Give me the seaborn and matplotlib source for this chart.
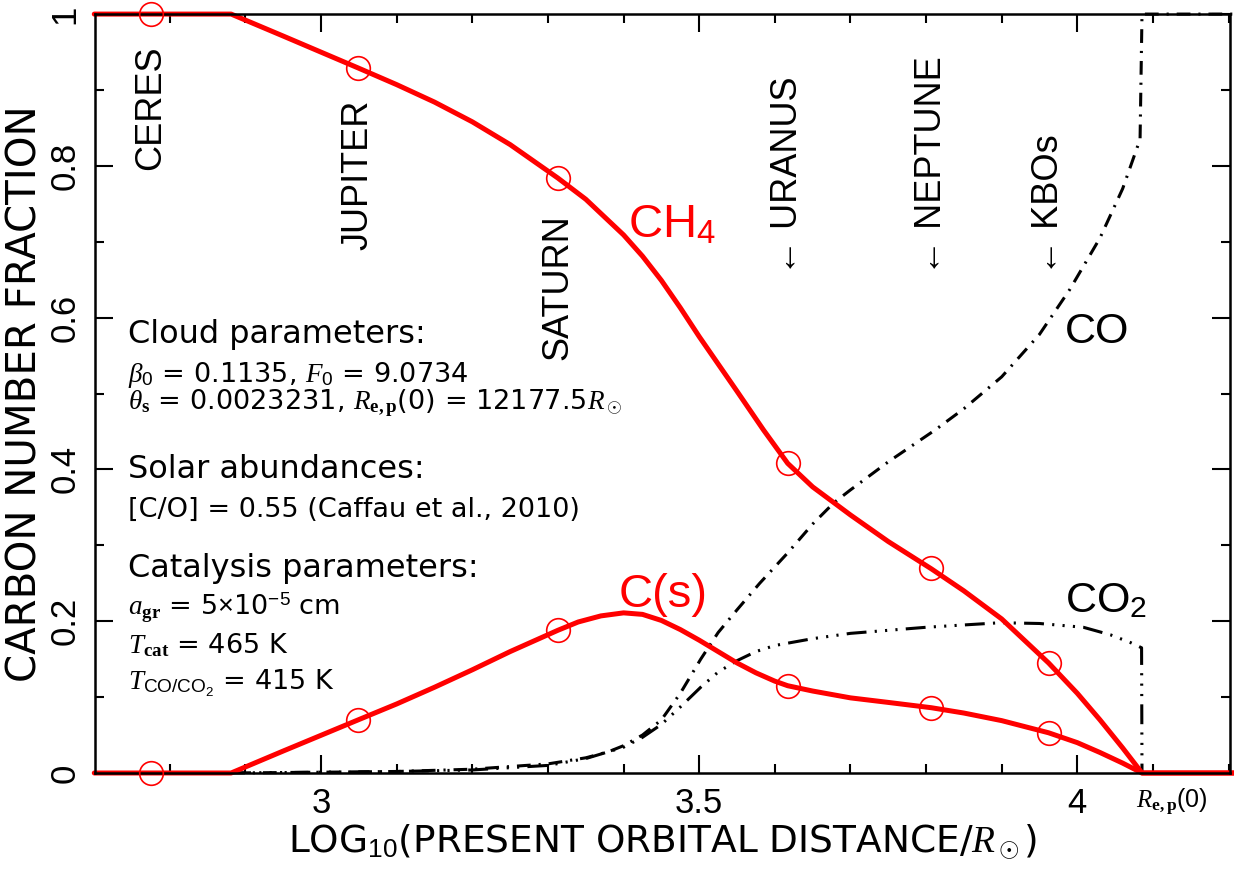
import numpy as np
import pandas as pd
import seaborn as sns
import matplotlib
matplotlib.use('Agg')
from matplotlib import pyplot as plt
from matplotlib.ticker import MultipleLocator

# ---- values ----
log_rep0 = np.log10(12177.5)   # R_e,p(0) in log10(R/Rsun)

planet_names = ['CERES', 'JUPITER', 'SATURN', '\u2190 URANUS', '\u2190 NEPTUNE', '\u2190 KBOs']
planet_x = [2.775, 3.049, 3.313, 3.617, 3.807, 3.962]
planet_label_y = [0.794, 0.689, 0.544, 0.656, 0.656, 0.656]

ch4_pts = [1.0, 0.929, 0.784, 0.408, 0.270, 0.145]
cs_pts = [0.0, 0.070, 0.188, 0.115, 0.086, 0.053]

ch4_x = [2.70, 2.881, 2.95, 3.049, 3.10, 3.15, 3.20, 3.25, 3.313, 3.35, 3.40, 3.425, 3.45,
         3.475, 3.50, 3.55, 3.585, 3.617, 3.65, 3.70, 3.75, 3.807, 3.85, 3.90,
         3.962, 4.00, 4.03, 4.06, log_rep0, 4.21]
ch4_y = [1.0, 1.0, 0.971, 0.929, 0.907, 0.884, 0.858, 0.828, 0.784, 0.756, 0.709, 0.681, 0.649,
         0.613, 0.575, 0.503, 0.452, 0.408, 0.377, 0.340, 0.305, 0.269, 0.240, 0.203,
         0.145, 0.105, 0.070, 0.033, 0.0, 0.0]

cs_x = [2.70, 2.881, 2.95, 3.049, 3.10, 3.15, 3.20, 3.25, 3.313, 3.34, 3.37, 3.40, 3.425,
        3.45, 3.475, 3.50, 3.525, 3.55, 3.575, 3.60, 3.617, 3.65, 3.70, 3.75, 3.807,
        3.85, 3.90, 3.962, 4.00, 4.03, 4.06, log_rep0, 4.21]
cs_y = [0.0, 0.0, 0.029, 0.070, 0.091, 0.113, 0.136, 0.160, 0.188, 0.199, 0.207, 0.211, 0.209,
        0.201, 0.189, 0.175, 0.160, 0.145, 0.132, 0.121, 0.115, 0.108, 0.099, 0.093, 0.086,
        0.079, 0.069, 0.053, 0.040, 0.027, 0.013, 0.0, 0.0]

co_x = [2.881, 3.0, 3.1, 3.2, 3.3, 3.35, 3.38, 3.40, 3.425, 3.45, 3.475, 3.502, 3.525,
        3.55, 3.58, 3.617, 3.65, 3.678, 3.70, 3.75, 3.812, 3.85, 3.90, 3.95, 3.99, 4.03,
        4.06, 4.083, log_rep0, 4.21]
co_y = [0.0, 0.001, 0.002, 0.005, 0.012, 0.020, 0.028, 0.036, 0.050, 0.070, 0.105, 0.150, 0.185,
        0.215, 0.250, 0.290, 0.328, 0.356, 0.373, 0.410, 0.452, 0.480, 0.522, 0.578, 0.637, 0.705,
        0.770, 0.835, 1.0, 1.0]

co2_x = [2.881, 3.1, 3.2, 3.3, 3.35, 3.40, 3.425, 3.45, 3.475, 3.502, 3.525, 3.55, 3.575,
         3.60, 3.65, 3.70, 3.80, 3.898, 3.95, 4.008, 4.044, 4.07, 4.085, log_rep0, 4.21]
co2_y = [0.0, 0.002, 0.004, 0.010, 0.019, 0.034, 0.047, 0.064, 0.087, 0.113, 0.133, 0.148, 0.160,
         0.168, 0.177, 0.184, 0.192, 0.198, 0.197, 0.192, 0.182, 0.172, 0.165, 0.0, 0.0]

sns.set_theme(style='ticks', rc={'text.color': 'black', 'axes.labelcolor': 'black',
                                 'xtick.color': 'black', 'ytick.color': 'black',
                                 'axes.edgecolor': 'black'})
plt.rcParams['font.family'] = ['Liberation Sans', 'DejaVu Sans']
plt.rcParams['mathtext.fontset'] = 'custom'
plt.rcParams['mathtext.rm'] = 'Liberation Sans'
plt.rcParams['mathtext.it'] = 'Liberation Serif:italic'
plt.rcParams['mathtext.bf'] = 'Liberation Serif:bold'

fig = plt.figure(figsize=(12.34, 8.8), dpi=100)
ax = fig.add_axes([0.077, 0.1216, 0.9198, 0.8624])

# black curves
sns.lineplot(x=co_x, y=co_y, ax=ax, color='black', lw=2.2, sort=False, estimator=None,
             linestyle=(0, (4.5, 2.6, 0.7, 2.6)), clip_on=False)
sns.lineplot(x=co2_x, y=co2_y, ax=ax, color='black', lw=2.2, sort=False, estimator=None,
             linestyle=(0, (6.5, 2.7, 0.7, 2.7, 0.7, 2.7, 0.7, 2.7)))

# red curves
sns.lineplot(x=ch4_x, y=ch4_y, ax=ax, color='red', lw=3.6, sort=False, estimator=None,
             clip_on=False, solid_joinstyle='round')
sns.lineplot(x=cs_x, y=cs_y, ax=ax, color='red', lw=3.6, sort=False, estimator=None,
             clip_on=False, solid_joinstyle='round')

# open circles at the planets
for pts in (ch4_pts, cs_pts):
    ax.plot(planet_x, pts, linestyle='none', marker='o', ms=17, mfc='none', mec='red',
            mew=1.2, clip_on=False, zorder=5)

ax.set_xlim(2.701, 4.202)
ax.set_ylim(0, 1)
ax.set_xticks([3, 3.5, 4])
ax.set_xticklabels(['3', '3.5', '4'])
ax.set_yticks([0, 0.2, 0.4, 0.6, 0.8, 1])
ax.set_yticklabels(['0', '0.2', '0.4', '0.6', '0.8', '1'], rotation=90, va='center')
ax.xaxis.set_minor_locator(MultipleLocator(0.1))
ax.yaxis.set_minor_locator(MultipleLocator(0.1))
ax.tick_params(which='both', direction='in', top=True, right=True, width=1.5, colors='black')
ax.tick_params(which='major', length=13, labelsize=25, pad=10)
ax.tick_params(which='minor', length=6.5)
for s in ax.spines.values():
    s.set_linewidth(1.8)
    s.set_color('black')

ax.set_xlabel(r'LOG$_{10}$(PRESENT ORBITAL DISTANCE/$R_\odot$)', fontsize=27, labelpad=2,
              family='DejaVu Sans')
ax.set_ylabel('CARBON NUMBER FRACTION', fontsize=29, labelpad=2, family='DejaVu Sans')

ax.text(4.077, -0.018, r'$R_\mathbf{e,p}$(0)', fontsize=18, ha='left', va='top')

# planet labels
for name, px, py in zip(planet_names, planet_x, planet_label_y):
    ax.text(px, py, name, rotation=90, ha='center', va='bottom', fontsize=26)

# species labels
ax.text(3.406, 0.706, r'CH$_4$', color='red', fontsize=34)
ax.text(3.393, 0.219, 'C(s)', color='red', fontsize=34)
ax.text(3.984, 0.567, 'CO', color='black', fontsize=31)
ax.text(3.984, 0.212, r'CO$_2$', color='black', fontsize=31)

# parameter block
tx = 2.744
block = [
    ('Cloud parameters:', 0.566, 23),
    (r'$\beta_0$ = 0.1135, $F_0$ = 9.0734', 0.515, 19.5),
    (r'$\theta_\mathbf{s}$ = 0.0023231, $R_\mathbf{e,p}$(0) = 12177.5$R_\odot$', 0.479, 19.5),
    ('Solar abundances:', 0.389, 23),
    ('[C/O] = 0.55 (Caffau et al., 2010)', 0.337, 19.5),
    ('Catalysis parameters:', 0.258, 23),
    (r'$a_\mathbf{gr}$ = 5$\times$10$^{-5}$ cm', 0.208, 19.5),
    (r'$T_\mathbf{cat}$ = 465 K', 0.158, 19.5),
    (r'$T_\mathrm{CO/CO_2}$ = 415 K', 0.109, 19.5),
]
for txt, ty, fs in block:
    ax.text(tx, ty, txt, fontsize=fs, ha='left', va='baseline', family='DejaVu Sans')

fig.savefig('out.png', dpi=100)
